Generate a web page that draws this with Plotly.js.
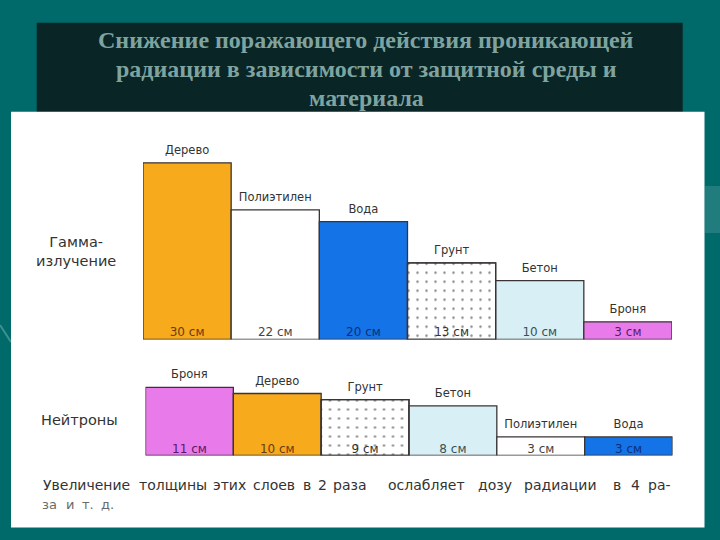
<!DOCTYPE html>
<html>
<head>
<meta charset="utf-8">
<script src="https://cdn.plot.ly/plotly-3.0.1.min.js"></script>
<style>html,body{margin:0;padding:0;background:#006a6a;}#chart{width:720px;height:540px;}</style>
</head>
<body>
<div id="chart"></div>
<script>
// ---- data ----
const titleLines = ['Снижение поражающего действия проникающей', 'радиации в зависимости от защитной среды и', 'материала'];
const gammaLabel = ['Гамма-', 'излучение'];
const neutronLabel = 'Нейтроны';
const gammaMaterials = ['Дерево', 'Полиэтилен', 'Вода', 'Грунт', 'Бетон', 'Броня'];
const gammaThickness = [30, 22, 20, 13, 10, 3];
const neutronMaterials = ['Броня', 'Дерево', 'Грунт', 'Бетон', 'Полиэтилен', 'Вода'];
const neutronThickness = [11, 10, 9, 8, 3, 3];
const unit = 'см';
const footerWords = ['Увеличение', 'толщины', 'этих', 'слоев', 'в', '2', 'раза', 'ослабляет', 'дозу', 'радиации', 'в', '4', 'ра-'];
const footerWords2 = ['за', 'и', 'т.', 'д.'];

// ---- styles ----
const materialColor = {'Дерево':'#f6aa1c','Полиэтилен':'#ffffff','Вода':'#1473e6','Грунт':'#ffffff','Бетон':'#d9eff6','Броня':'#e97ae9'};
const materialText = {'Дерево':'#6b3c12','Полиэтилен':'#444444','Вода':'#0b2f7a','Грунт':'#333333','Бетон':'#3d4f55','Броня':'#5a1a66'};
const patterned = 'Грунт';
const footerX = [43, 139, 213, 253, 303, 318, 333, 388, 478, 524, 613, 631, 648];
const footerX2 = [42, 66, 82, 101];
const titleY = [40, 69, 98];

const W = 720, H = 540;
const px = x => x / W;
const py = y => 1 - y / H;
const sans = 'DejaVu Sans, sans-serif';

function barTrace(mats, vals, xa, ya) {
  return {
    type: 'bar', x: mats, y: vals, xaxis: xa, yaxis: ya, width: 1,
    marker: {color: mats.map(m => materialColor[m]), line: {color: '#3a3434', width: 1.3}},
    hoverinfo: 'skip', showlegend: false
  };
}
function patternTrace(mats, vals, xa, ya) {
  const i = mats.indexOf(patterned);
  return {
    type: 'bar', x: [mats[i]], y: [vals[i]], xaxis: xa, yaxis: ya, width: 1,
    marker: {color: 'rgba(255,255,255,0)', line: {color: '#3a3434', width: 1.3},
      pattern: {shape: '.', fgcolor: '#1a1a1a', bgcolor: 'rgba(255,255,255,0)', size: 9, solidity: 0.06, fillmode: 'overlay'}},
    hoverinfo: 'skip', showlegend: false
  };
}
function nameTrace(mats, vals, xa, ya) {
  return {
    type: 'scatter', mode: 'markers+text', x: mats, y: vals, xaxis: xa, yaxis: ya,
    marker: {size: 8, color: 'rgba(0,0,0,0)'},
    text: mats, textposition: 'top center', cliponaxis: false,
    textfont: {family: sans, size: 11.5, color: '#333333'},
    hoverinfo: 'skip', showlegend: false
  };
}
function valueTrace(mats, vals, xa, ya) {
  return {
    type: 'scatter', mode: 'text', x: mats, y: vals.map(() => 0), xaxis: xa, yaxis: ya,
    text: vals.map(v => v + ' ' + unit), textposition: 'top center', cliponaxis: false,
    textfont: {family: sans, size: 12, color: mats.map(m => materialText[m])},
    hoverinfo: 'skip', showlegend: false
  };
}

const data = [
  barTrace(gammaMaterials, gammaThickness, 'x', 'y'),
  patternTrace(gammaMaterials, gammaThickness, 'x', 'y'),
  nameTrace(gammaMaterials, gammaThickness, 'x', 'y'),
  valueTrace(gammaMaterials, gammaThickness, 'x', 'y'),
  barTrace(neutronMaterials, neutronThickness, 'x2', 'y2'),
  patternTrace(neutronMaterials, neutronThickness, 'x2', 'y2'),
  nameTrace(neutronMaterials, neutronThickness, 'x2', 'y2'),
  valueTrace(neutronMaterials, neutronThickness, 'x2', 'y2')
];

const hidden = {showgrid: false, zeroline: false, showticklabels: false, ticks: '', showline: false, fixedrange: true};

const annotations = [
  {xref: 'paper', yref: 'paper', x: px(76), y: py(251), text: gammaLabel.join('<br>'), showarrow: false,
   xanchor: 'center', yanchor: 'middle', align: 'center', font: {family: sans, size: 14.5, color: '#333333'}},
  {xref: 'paper', yref: 'paper', x: px(79), y: py(420), text: neutronLabel, showarrow: false,
   xanchor: 'center', yanchor: 'middle', font: {family: sans, size: 14.5, color: '#333333'}}
];
titleLines.forEach((t, i) => {
  annotations.push({xref: 'paper', yref: 'paper', x: px(366), y: py(titleY[i]), text: t, showarrow: false,
    xanchor: 'center', yanchor: 'middle',
    font: {family: 'Liberation Serif, Times New Roman, serif', size: 24, color: '#7fa4a0', weight: 'bold'}});
});
footerWords.forEach((w, i) => {
  annotations.push({xref: 'paper', yref: 'paper', x: px(footerX[i]), y: py(485), text: w, showarrow: false,
    xanchor: 'left', yanchor: 'middle', xshift: -2, font: {family: sans, size: 14, color: '#333333'}});
});
footerWords2.forEach((w, i) => {
  annotations.push({xref: 'paper', yref: 'paper', x: px(footerX2[i]), y: py(504), text: w, showarrow: false,
    xanchor: 'left', yanchor: 'middle', xshift: -2, font: {family: sans, size: 13, color: '#6a6a6a'}});
});

const layout = {
  width: W, height: H,
  margin: {l: 0, r: 0, t: 0, b: 0},
  paper_bgcolor: '#006a6a', plot_bgcolor: 'rgba(0,0,0,0)',
  bargap: 0, barmode: 'overlay', showlegend: false,
  xaxis: Object.assign({domain: [px(143), px(672)], range: [-0.5, 5.5], anchor: 'y'}, hidden),
  yaxis: Object.assign({domain: [py(339.5), py(142.2)], range: [0, 33.5], anchor: 'x'}, hidden),
  xaxis2: Object.assign({domain: [px(145.5), px(672.5)], range: [-0.5, 5.5], anchor: 'y2'}, hidden),
  yaxis2: Object.assign({domain: [py(455.5), py(378)], range: [0, 12.5], anchor: 'x2'}, hidden),
  shapes: [
    {type: 'rect', xref: 'paper', yref: 'paper', x0: px(705), x1: 1, y0: py(233), y1: py(186), fillcolor: 'rgba(255,255,255,0.13)', line: {width: 0}, layer: 'below'},
    {type: 'line', xref: 'paper', yref: 'paper', x0: 0, x1: px(11), y0: py(325), y1: py(342), line: {color: 'rgba(255,255,255,0.25)', width: 2}, layer: 'below'},
    {type: 'rect', xref: 'paper', yref: 'paper', x0: px(36.7), x1: px(682.7), y0: py(112), y1: py(22.7), fillcolor: '#0a2526', line: {width: 0}, layer: 'below'},
    {type: 'rect', xref: 'paper', yref: 'paper', x0: px(11), x1: px(704.5), y0: py(527.5), y1: py(111.7), fillcolor: '#ffffff', line: {width: 0}, layer: 'below'}
  ],
  annotations: annotations
};

Plotly.newPlot('chart', data, layout, {staticPlot: true, displayModeBar: false});
</script>
</body>
</html>
